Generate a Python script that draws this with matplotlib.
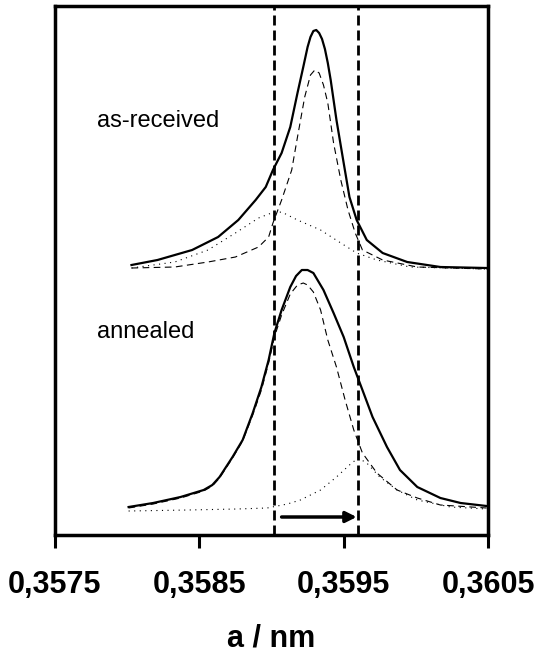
import matplotlib.pyplot as plt

plt.rcParams["font.family"] = ["Liberation Sans", "DejaVu Sans"]

# lattice parameter a (nm) and intensity (a.u.)
# as-received: measured profile and its two fitted components
recv_x = [0.35803, 0.35821, 0.35845, 0.35863, 0.35877, 0.35889, 0.35896, 0.35901,
          0.35907, 0.35913, 0.35918, 0.35922, 0.35925, 0.35927, 0.35929, 0.35931,
          0.35933, 0.35935, 0.35937, 0.35939, 0.35941, 0.35945, 0.35950, 0.35954,
          0.35959, 0.35966, 0.35977, 0.35994, 0.36017, 0.36049]
recv_y = [270, 275, 285, 298, 315, 335, 348, 365, 382, 408, 442, 468, 488, 498, 504,
          505, 502, 496, 486, 472, 455, 415, 372, 338, 315, 295, 282, 273, 268, 267]

recv_main_x = [0.35803, 0.35833, 0.35856, 0.35875, 0.35891, 0.35898, 0.35901, 0.35907,
               0.35914, 0.35918, 0.35923, 0.35927, 0.35930, 0.35933, 0.35936, 0.35939,
               0.35943, 0.35948, 0.35953, 0.35958, 0.35963, 0.35977, 0.36001, 0.36049]
recv_main_y = [267, 268, 273, 278, 288, 298, 312, 335, 365, 398, 438, 460, 465, 462,
               450, 432, 392, 355, 325, 302, 285, 275, 268, 266]

recv_side_x = [0.35803, 0.35833, 0.35856, 0.35875, 0.35891, 0.35900, 0.35907, 0.35918,
               0.35934, 0.35948, 0.35959, 0.35973, 0.35996, 0.36049]
recv_side_y = [267, 273, 285, 302, 317, 322, 323, 315, 305, 292, 282, 275, 268, 266]

# annealed: measured profile and its two fitted components
ann_x = [0.35801, 0.35818, 0.35837, 0.35853, 0.35859, 0.35864, 0.35873, 0.35880,
         0.35887, 0.35893, 0.35898, 0.35902, 0.35907, 0.35913, 0.35917, 0.35921,
         0.35925, 0.35929, 0.35936, 0.35943, 0.35950, 0.35957, 0.35963, 0.35970,
         0.35980, 0.35989, 0.36001, 0.36017, 0.36031, 0.36049]
ann_y = [28, 32, 38, 45, 50, 58, 78, 95, 122, 148, 175, 202, 225, 248, 259, 265,
         265, 262, 245, 222, 198, 168, 145, 118, 88, 65, 48, 37, 32, 29]

ann_main_x = [0.35801, 0.35818, 0.35837, 0.35853, 0.35859, 0.35864, 0.35873, 0.35880,
              0.35887, 0.35893, 0.35898, 0.35902, 0.35907, 0.35913, 0.35918, 0.35922,
              0.35925, 0.35929, 0.35934, 0.35939, 0.35945, 0.35951, 0.35957, 0.35963,
              0.35973, 0.35987, 0.36001, 0.36017, 0.36049]
ann_main_y = [27, 31, 37, 44, 49, 57, 77, 94, 120, 145, 172, 198, 220, 241, 250, 252,
              250, 243, 225, 195, 168, 135, 105, 82, 62, 45, 37, 30, 27]

ann_side_x = [0.35801, 0.35842, 0.35876, 0.35897, 0.35911, 0.35920, 0.35934, 0.35945,
              0.35954, 0.35960, 0.35966, 0.35975, 0.35987, 0.36001, 0.36024, 0.36049]
ann_side_y = [24, 25, 26, 27, 31, 35, 45, 58, 70, 77, 72, 58, 45, 35, 28, 26]

# peak positions marked by the vertical lines, and the shift arrow
peak_lines = [0.35902, 0.35960]
shift_from = 0.35907
shift_to = 0.35959
shift_level = 18

ticks = [0.3575, 0.3585, 0.3595, 0.3605]
tick_labels = ["0,3575", "0,3585", "0,3595", "0,3605"]


def main():
    fig = plt.figure(figsize=(5.37, 6.53), dpi=100)
    ax = fig.add_axes([0.1024, 0.1807, 0.8064, 0.8101])

    # measured profiles
    ax.plot(recv_x, recv_y, color="black", lw=1.6)
    ax.plot(ann_x, ann_y, color="black", lw=1.6)
    # fitted components
    ax.plot(recv_main_x, recv_main_y, color="black", lw=0.8, dashes=(6, 4))
    ax.plot(ann_main_x, ann_main_y, color="black", lw=0.8, dashes=(6, 4))
    ax.plot(recv_side_x, recv_side_y, color="black", lw=0.8, dashes=(1, 4))
    ax.plot(ann_side_x, ann_side_y, color="black", lw=0.8, dashes=(1, 4))

    for xv in peak_lines:
        ax.axvline(xv, color="black", lw=2, dashes=(3.6, 1.8))

    ax.annotate("", xy=(shift_to, shift_level), xytext=(shift_from, shift_level),
                arrowprops=dict(arrowstyle="-|>", color="black", lw=2.5,
                                mutation_scale=16, shrinkA=0, shrinkB=0))

    ax.text(0.35779, 414, "as-received", fontsize=17, va="center", ha="left")
    ax.text(0.35779, 203, "annealed", fontsize=17, va="center", ha="left")

    ax.set_xlim(0.3575, 0.3605)
    ax.set_ylim(0, 529)
    ax.set_xticks(ticks)
    ax.set_xticklabels(tick_labels, fontsize=22, fontweight="bold")
    ax.set_yticks([])
    ax.tick_params(axis="x", direction="out", length=9, width=2.2, pad=16)
    ax.set_xlabel("a / nm", fontsize=22, fontweight="bold", labelpad=17)
    for sp in ax.spines.values():
        sp.set_linewidth(2.5)

    fig.savefig("out.png", dpi=100)


if __name__ == "__main__":
    main()
